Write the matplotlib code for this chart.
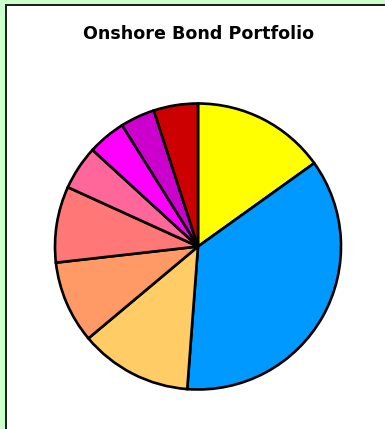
import matplotlib
matplotlib.use("Agg")
import matplotlib.pyplot as plt
from matplotlib.patches import Rectangle

# Portfolio allocation (percent), clockwise from 12 o'clock
labels = ["Segment A", "Segment B", "Segment C", "Segment D", "Segment E",
          "Segment F", "Segment G", "Segment H", "Segment I"]
shares = [15.1, 36.1, 12.7, 9.3, 8.6, 5.0, 4.3, 3.9, 5.0]
colors = ["#FFFF00", "#0099FF", "#FFCC66", "#FF9966", "#FF7777",
          "#FF6699", "#FF00FF", "#CC00CC", "#CC0000"]

W, H = 385, 429
fig = plt.figure(figsize=(W / 100, H / 100), dpi=100)
fig.patch.set_facecolor("#CCFFCC")

# white panel with dark left/top border
panel = Rectangle((5.5 / W, -0.1), 1.2, (H - 5.5) / H + 0.1,
                  transform=fig.transFigure, facecolor="white",
                  edgecolor="#1a1a1a", linewidth=1.4, zorder=-5)
fig.patches.append(panel)

fig.text(198.5 / W, 1 - 34 / H, "Onshore Bond Portfolio",
         ha="center", va="center", fontsize=12.6, fontweight="bold",
         color="black")

cx, cy, r = 198, 246.5, 143
ax = fig.add_axes([(cx - r) / W, (H - cy - r) / H, 2 * r / W, 2 * r / H])
ax.set_zorder(1)
wedges, _ = ax.pie(shares, colors=colors, startangle=90, counterclock=False,
                   wedgeprops=dict(edgecolor="black", linewidth=1.9),
                   radius=1.0)
for w in wedges:
    w.set_clip_on(False)
ax.set_xlim(-1.0, 1.0)
ax.set_ylim(-1.0, 1.0)
ax.set_aspect("equal")
ax.axis("off")

fig.savefig("out.png", dpi=100, facecolor=fig.get_facecolor())
